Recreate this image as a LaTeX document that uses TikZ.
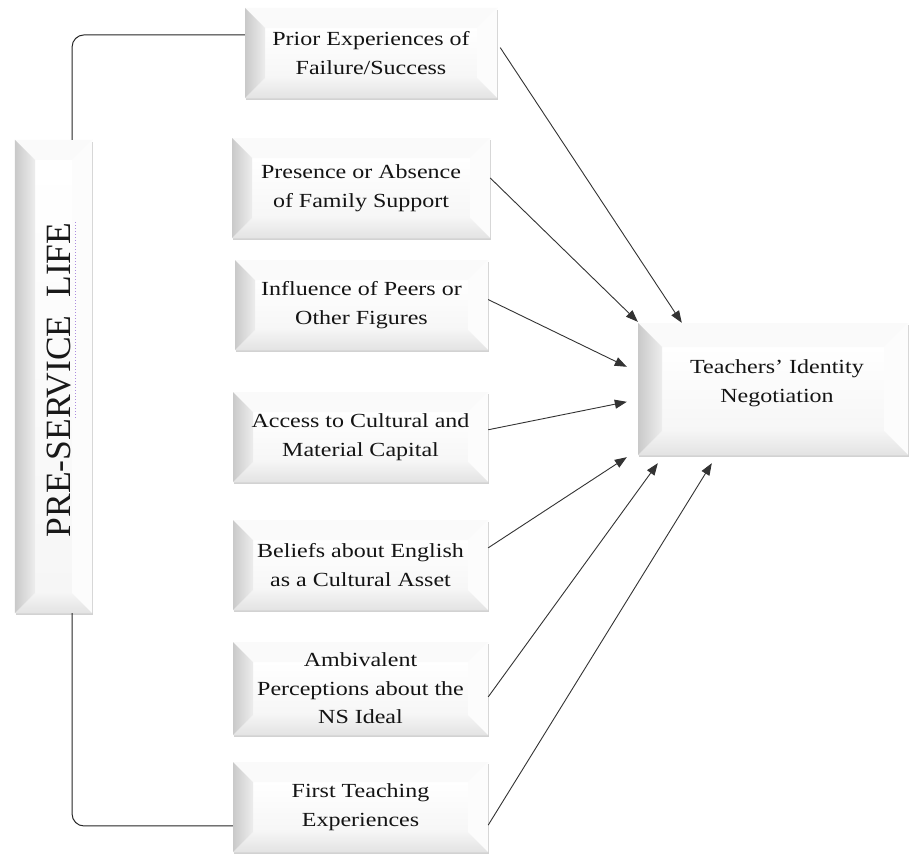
\documentclass[tikz,border=0pt]{standalone}
\usepackage{fontspec}
\setmainfont{Liberation Serif}[FakeStretch=1.2]
\newfontfamily\titlefont{Liberation Serif}
\usetikzlibrary{calc,shadows,arrows.meta}

\tikzset{
  bevelsize/.store in=\bevw, bevelsize=20bp,
  bevelbox/.style={
    draw=none, fill=white, inner sep=0pt, align=center,
    font=\fontsize{20bp}{28.5bp}\selectfont, text=black!92,
    drop shadow={opacity=0.35, shadow xshift=1.2bp, shadow yshift=-2.2bp},
    path picture={
      \path (path picture bounding box.south west) coordinate (bvsw)
            (path picture bounding box.north west) coordinate (bvnw)
            (path picture bounding box.north east) coordinate (bvne)
            (path picture bounding box.south east) coordinate (bvse);
      % inner face
      \fill[top color=white, bottom color=gray!7]
        ([shift={(\bevw,\bevw)}]bvsw) rectangle ([shift={(-\bevw,-\bevw)}]bvne);
      % top face
      \fill[gray!4] (bvnw) -- (bvne) -- ([shift={(-\bevw,-\bevw)}]bvne)
        -- ([shift={(\bevw,-\bevw)}]bvnw) -- cycle;
      % right face
      \fill[gray!2] (bvne) -- (bvse) -- ([shift={(-\bevw,\bevw)}]bvse)
        -- ([shift={(-\bevw,-\bevw)}]bvne) -- cycle;
      % bottom face
      \fill[top color=gray!8, bottom color=gray!22] (bvsw) -- (bvse)
        -- ([shift={(-\bevw,\bevw)}]bvse) -- ([shift={(\bevw,\bevw)}]bvsw) -- cycle;
      % left face
      \fill[left color=gray!42, right color=gray!14] (bvsw) -- (bvnw)
        -- ([shift={(\bevw,-\bevw)}]bvnw) -- ([shift={(\bevw,\bevw)}]bvsw) -- cycle;
    }
  },
  arrowline/.style={draw=black!80, line width=0.9bp,
    -{Triangle[length=12bp,width=9bp]}},
  bracketline/.style={draw=black!85, line width=1bp, rounded corners=12bp},
  spellmark/.style={draw=blue!45!violet!45, line width=1.2bp,
    dash pattern=on 1bp off 2bp}
}

\begin{document}
\begin{tikzpicture}[x=1bp,y=-1bp]
  \useasboundingbox[fill=white] (0,0) rectangle (912,855);

  % left column: pre-service life
  \node[bevelbox, minimum width=77bp, minimum height=473bp] (pre) at (53.5,376.5) {};
  \node[inner sep=0pt, rotate=90, font=\titlefont\fontsize{35.5bp}{40bp}\selectfont,
        text=black!90] (lbl) at (59.5,380) {PRE-SERVICE\ \ LIFE};
  \draw[spellmark] ([xshift=4bp]lbl.south east) -- ++(0,197);

  % influencing factors
  \node[bevelbox, minimum width=252bp, minimum height=90bp]  (p1) at (371,53)    {Prior Experiences of\\Failure/Success};
  \node[bevelbox, minimum width=258bp, minimum height=100bp] (p2) at (361,188)   {Presence or Absence\\of Family Support};
  \node[bevelbox, minimum width=253bp, minimum height=90bp]  (p3) at (361.5,305) {Influence of Peers or\\Other Figures};
  \node[bevelbox, minimum width=255bp, minimum height=90bp]  (p4) at (360.5,437) {Access to Cultural and\\Material Capital};
  \node[bevelbox, minimum width=255bp, minimum height=90bp]  (p5) at (360.5,565) {Beliefs about English\\as a Cultural Asset};
  \node[bevelbox, minimum width=255bp, minimum height=93bp]  (p6) at (360.5,688.5) {Ambivalent\\Perceptions about the\\NS Ideal};
  \node[bevelbox, minimum width=255bp, minimum height=90bp]  (p7) at (360.5,807) {First Teaching\\Experiences};

  % outcome (text sits a little above the middle of the face)
  \node[bevelbox, bevelsize=24bp, minimum width=270bp, minimum height=132bp,
        text depth=16bp] (tin) at (773,389)
    {\hspace*{8bp}Teachers' Identity\\\hspace*{8bp}Negotiation};

  % brackets joining the column to the first and last factor
  \coordinate (pretop) at ($(pre.north west)!0.74!(pre.north east)$);
  \coordinate (prebot) at ($(pre.south west)!0.74!(pre.south east)$);
  \draw[bracketline] (pretop) |- ($(p1.north west)!0.3!(p1.south west)$);
  \draw[bracketline] (prebot) |- ($(p7.north west)!0.71!(p7.south west)$);

  % arrows into the outcome box
  \draw[arrowline] ($(p1.north east)!0.44!(p1.south east)+(3,0)$) -- ($(tin.north west)+(44,0)$);
  \draw[arrowline] ($(p2.north east)!0.40!(p2.south east)$) -- ($(tin.north west)+(0,-1)$);
  \draw[arrowline] ($(p3.north east)!0.44!(p3.south east)$) -- ($(tin.north west)+(-11,44)$);
  \draw[arrowline] ($(p4.north east)!0.42!(p4.south east)$) -- ($(tin.north west)+(-11,79)$);
  \draw[arrowline] ($(p5.north east)!0.31!(p5.south east)$) -- ($(tin.south west)+(-11,2)$);
  \draw[arrowline] ($(p6.north east)!0.59!(p6.south east)$) -- ($(tin.south west)+(20,8)$);
  \draw[arrowline] ($(p7.north east)!0.70!(p7.south east)$) -- ($(tin.south west)+(74,8)$);
\end{tikzpicture}
\end{document}
